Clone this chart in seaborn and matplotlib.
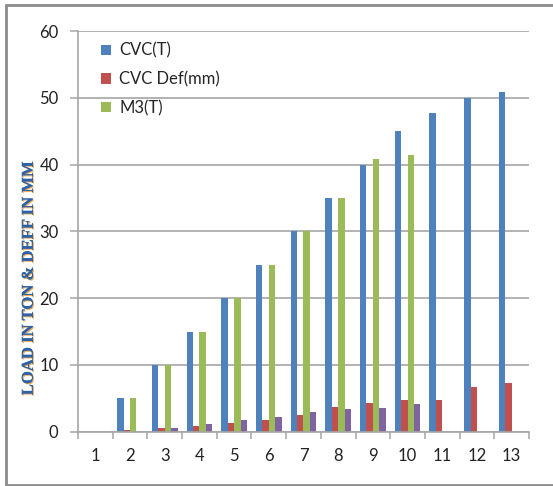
import numpy as np
import pandas as pd
import matplotlib
matplotlib.use("Agg")
import matplotlib.pyplot as plt
import matplotlib.patheffects as pe
from matplotlib.lines import Line2D
import seaborn as sns

# Load-test readings per stage
stages = [str(i) for i in range(1, 14)]
cvc_load = [0, 5, 10, 15, 20, 25, 30, 35, 40, 45, 47.7, 50, 50.9]
cvc_def = [0, 0.3, 0.6, 0.8, 1.35, 1.75, 2.5, 3.75, 4.3, 4.8, 4.8, 6.7, 7.3]
m3_load = [0, 5, 10, 15, 20, 25, 30, 35, 40.8, 41.4, 0, 0, 0]
m3_def = [0, 0, 0.6, 1.15, 1.75, 2.15, 2.95, 3.35, 3.55, 4.15, 0, 0, 0]

series_names = ["CVC(T)", "CVC Def(mm)", "M3(T)", "M3 Def(mm)"]
series_values = [cvc_load, cvc_def, m3_load, m3_def]
palette = ["#4F81BD", "#C0504D", "#9BBB59", "#8064A2"]

df = pd.DataFrame({
    "Stage": np.tile(stages, len(series_names)),
    "Series": np.repeat(series_names, len(stages)),
    "Value": np.concatenate(series_values),
})

sns.set_theme(style="white")
plt.rcParams["font.family"] = ["Lato", "DejaVu Sans"]

fig = plt.figure(figsize=(5.53, 4.86), dpi=100)
ax = fig.add_axes([0.141, 0.1117, 0.8156, 0.8245])

sns.barplot(data=df, x="Stage", y="Value", hue="Series", order=stages,
            hue_order=series_names, palette=palette, width=0.74,
            saturation=1, linewidth=0, ax=ax)

ax.set_xlim(-0.5, 12.5)
ax.set_ylim(0, 60)
ax.set_yticks(range(0, 61, 10))
ax.set_xlabel("")
ax.set_ylabel("")

grid_col = "#A6A6A6"
ax.yaxis.grid(True, color=grid_col, linewidth=1.2)
ax.set_axisbelow(True)
for s in ["top", "right"]:
    ax.spines[s].set_visible(False)
for s in ["left", "bottom"]:
    ax.spines[s].set_color(grid_col)
    ax.spines[s].set_linewidth(1.2)

ax.set_xticks(np.arange(-0.5, 13, 1), minor=True)
ax.tick_params(axis="x", which="major", length=0, pad=12, labelsize=12, colors="#222222")
ax.tick_params(axis="x", which="minor", length=5, width=1.1, color=grid_col, bottom=True)
ax.tick_params(axis="y", which="major", length=6, width=1.1, color=grid_col, left=True,
               pad=8, labelsize=12, labelcolor="#222222")

handles, labels = ax.get_legend_handles_labels()
ax.legend(handles[:3], labels[:3], loc="upper left", bbox_to_anchor=(0.025, 1.0),
          frameon=False, fontsize=12, handlelength=0.6, handleheight=0.6,
          handletextpad=0.5, labelspacing=0.75, borderaxespad=0.3)

fig.text(0.052, 0.427, "LOAD IN TON & DEFF IN MM", rotation=90, ha="center", va="center",
         fontsize=12, fontweight="bold", family="Liberation Serif", color="#2E62A6",
         path_effects=[pe.withSimplePatchShadow(offset=(0.8, -0.8), shadow_rgbFace="#F0A040", alpha=0.9),
                       pe.Normal()])

# Frame on the left, top and bottom of the figure
frame_col = "#8C8C8C"
fig.add_artist(Line2D([0.011, 0.011], [0.002, 0.99], transform=fig.transFigure,
                      color=frame_col, linewidth=2))
fig.add_artist(Line2D([0.011, 1.0], [0.99, 0.99], transform=fig.transFigure,
                      color=frame_col, linewidth=2))
fig.add_artist(Line2D([0.011, 1.0], [0.002, 0.002], transform=fig.transFigure,
                      color=frame_col, linewidth=2))

fig.savefig("out.png", dpi=100)
